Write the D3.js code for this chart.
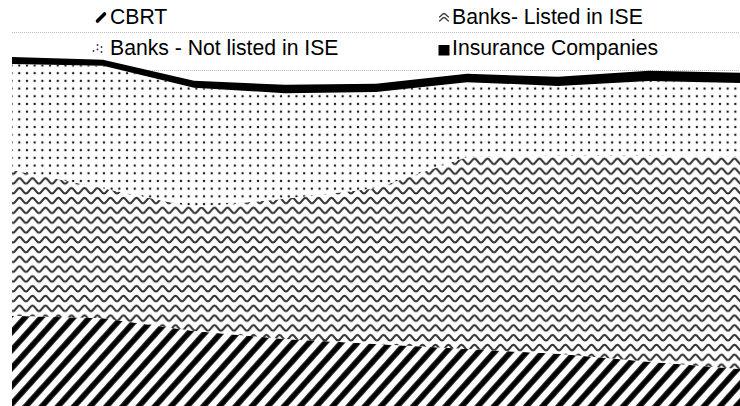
<!DOCTYPE html>
<html>
<head>
<meta charset="utf-8">
<script src="https://cdn.jsdelivr.net/npm/d3@7"></script>
<style>
  html, body { margin: 0; padding: 0; background: #fff; }
  svg { display: block; }
</style>
</head>
<body>
<svg id="chart" width="740" height="406"></svg>
<script>
// ---- data (share of total, %) ----
const periods = ["P1", "P2", "P3", "P4", "P5", "P6", "P7", "P8", "P9"];
const seriesNames = ["CBRT", "Banks- Listed in ISE", "Banks - Not listed in ISE", "Insurance Companies"];
const cbrt        = [25.3, 24.7, 21.3, 19.2, 17.9, 16.6, 15.3, 13.2, 11.3];
const banksListed = [38.4, 34.2, 32.6, 36.9, 41.0, 50.5, 52.3, 54.4, 55.8];
const banksNotListed = [27.9, 32.2, 31.4, 27.8, 25.3, 19.7, 18.2, 19.5, 19.5];
const insurance   = [1.8, 1.6, 1.9, 2.2, 2.2, 2.2, 2.4, 2.7, 2.7];
const gridTicks   = [0, 10, 20, 30, 40, 50, 60, 70, 80, 90, 100];

const rows = periods.map((p, i) => ({
  period: p,
  "CBRT": cbrt[i],
  "Banks- Listed in ISE": banksListed[i],
  "Banks - Not listed in ISE": banksNotListed[i],
  "Insurance Companies": insurance[i]
}));

const svg = d3.select("#chart");
const x = d3.scalePoint().domain(periods).range([12, 740]);
const y = d3.scaleLinear().domain([0, 100]).range([412, 32]);

// ---- patterns ----
const defs = svg.append("defs");
const pStripes = defs.append("pattern").attr("id", "pat-stripes")
  .attr("patternUnits", "userSpaceOnUse").attr("width", 12).attr("height", 12)
  .attr("patternTransform", "rotate(42)");
pStripes.append("rect").attr("width", 12).attr("height", 12).attr("fill", "#fff");
pStripes.append("line").attr("x1", 3).attr("y1", -1).attr("x2", 3).attr("y2", 13)
  .attr("stroke", "#000").attr("stroke-width", 5.6);

const pWaves = defs.append("pattern").attr("id", "pat-waves")
  .attr("patternUnits", "userSpaceOnUse").attr("width", 13).attr("height", 9.8);
pWaves.append("rect").attr("width", 13).attr("height", 9.8).attr("fill", "#fff");
pWaves.append("path").attr("d", "M0,7.4 C2.6,7.4 4,1.8 6.5,1.8 C9,1.8 10.4,7.4 13,7.4")
  .attr("fill", "none").attr("stroke", "#333").attr("stroke-width", 2.1);

const pDots = defs.append("pattern").attr("id", "pat-dots")
  .attr("patternUnits", "userSpaceOnUse").attr("width", 7.7).attr("height", 7.7);
pDots.append("rect").attr("width", 7.7).attr("height", 7.7).attr("fill", "#fff");
pDots.append("circle").attr("cx", 3.85).attr("cy", 3.85).attr("r", 1.2).attr("fill", "#1a1a1a");

const fills = {
  "CBRT": "url(#pat-stripes)",
  "Banks- Listed in ISE": "url(#pat-waves)",
  "Banks - Not listed in ISE": "url(#pat-dots)",
  "Insurance Companies": "#000"
};

// ---- gridlines ----
svg.append("g").selectAll("line").data(gridTicks).join("line")
  .attr("x1", 12).attr("x2", 740)
  .attr("y1", d => y(d) + 0.5).attr("y2", d => y(d) + 0.5)
  .attr("stroke", "#bdbdbd").attr("stroke-width", 1).attr("stroke-dasharray", "1,1");

// ---- stacked areas ----
const stack = d3.stack().keys(seriesNames);
const layers = stack(rows);
const area = d3.area()
  .x(d => x(d.data.period))
  .y0(d => y(d[0]))
  .y1(d => y(d[1]));

svg.append("g").selectAll("path").data(layers).join("path")
  .attr("d", area)
  .attr("fill", d => fills[d.key]);

// ---- legend ----
const lg = svg.append("g").attr("font-family", "'Liberation Sans', Arial, sans-serif")
  .attr("font-size", "21.2px").attr("fill", "#000");

const legendItems = [
  { name: seriesNames[0], tx: 110, ty: 24 },
  { name: seriesNames[1], tx: 452, ty: 24 },
  { name: seriesNames[2], tx: 110, ty: 55 },
  { name: seriesNames[3], tx: 452, ty: 55 }
];
lg.selectAll("text").data(legendItems).join("text")
  .attr("x", d => d.tx).attr("y", d => d.ty).text(d => d.name);

// icons
// CBRT: diagonal stripe stroke
lg.append("path").attr("d", "M97.5,21 L104.5,14")
  .attr("stroke", "#000").attr("stroke-width", 3.6).attr("stroke-linecap", "round");
// Banks listed: small waves
lg.append("path").attr("d", "M439,17 C441,17 442,13.5 444,13.5 C446,13.5 447,17 449,17")
  .attr("fill", "none").attr("stroke", "#444").attr("stroke-width", 1.4);
lg.append("path").attr("d", "M439,21 C441,21 442,17.5 444,17.5 C446,17.5 447,21 449,21")
  .attr("fill", "none").attr("stroke", "#444").attr("stroke-width", 1.4);
// Banks not listed: dots
const dotIcon = [[93.5, 51], [97.5, 45], [97.5, 49.5], [101.5, 47], [101.5, 52]];
lg.selectAll("circle.dicon").data(dotIcon).join("circle").attr("class", "dicon")
  .attr("cx", d => d[0]).attr("cy", d => d[1]).attr("r", 0.9).attr("fill", "#333");
// Insurance: solid square
lg.append("rect").attr("x", 438.5).attr("y", 45).attr("width", 11).attr("height", 10.5).attr("fill", "#000");
</script>
</body>
</html>
